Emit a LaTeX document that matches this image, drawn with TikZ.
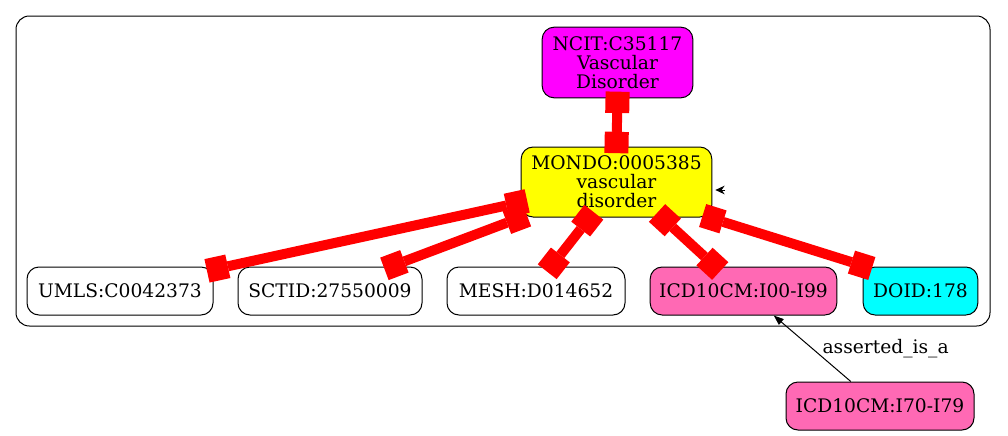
\documentclass[tikz,border=0pt]{standalone}
\usepackage{fontspec}
\setmainfont{DejaVu Serif}
\usepackage{tikz}
\usetikzlibrary{arrows.meta}
\definecolor{termpink}{RGB}{255,105,180}
\definecolor{termmagenta}{RGB}{255,0,255}
\definecolor{termyellow}{RGB}{255,255,0}
\definecolor{termcyan}{RGB}{0,255,255}

\begin{document}
\begin{tikzpicture}[
  x=0.75pt, y=-0.75pt,
  font=\fontsize{14}{14.3}\selectfont,
  term/.style={draw, line width=0.75pt, rounded corners=9pt, align=center, inner sep=2pt, minimum height=36pt, fill=white},
  mapping/.style={draw=red, line width=7.5pt, {Square[length=16pt,width=18pt,line width=0pt]}-{Square[length=16pt,width=18pt,line width=0pt]}, shorten <=-5pt, shorten >=-5pt},
  arr/.style={-{Triangle[length=7.5pt,width=5.5pt]}, line width=0.75pt}
]
\useasboundingbox (0,0) rectangle (1008,436);
\draw[line width=0.75pt, rounded corners=10pt] (16,16) rectangle (990,326);

\node[term, fill=termmagenta, minimum width=113pt, minimum height=53pt] (ncit) at (617.5,62.5) {NCIT:C35117\\Vascular\\Disorder};
\node[term, fill=termyellow, minimum width=143pt, minimum height=52.5pt] (mondo) at (616.5,182) {MONDO:0005385\\vascular\\disorder};
\node[term, minimum width=139.5pt] (umls) at (120,291) {UMLS:C0042373};
\node[term, minimum width=138pt] (sctid) at (330,291) {SCTID:27550009};
\node[term, minimum width=133.5pt] (mesh) at (536,291) {MESH:D014652};
\node[term, fill=termpink, minimum width=140pt] (icdall) at (743.5,291) {ICD10CM:I00-I99};
\node[term, fill=termcyan, minimum width=86pt] (doid) at (920.5,291) {DOID:178};
\node[term, fill=termpink, minimum width=141pt] (icdart) at (880,406) {ICD10CM:I70-I79};

\draw[mapping] (ncit.south) -- (mondo.north);
\draw[mapping] (mondo.192) -- (umls.13);
\draw[mapping] (mondo.south west) -- (sctid.22);
\draw[mapping] (mondo.233) -- (mesh.58);
\draw[mapping] (mondo.322) -- (icdall.139);
\draw[mapping] (mondo.339) -- (doid.156);

\draw[arr] (icdart.140) -- node[anchor=west, pos=0.5, xshift=4pt] {asserted\_is\_a} (icdall.321);

\coordinate (loopend) at (725,190);
\draw[line width=0.75pt, -{Stealth[length=7pt,width=6.5pt]}] (loopend) -- (mondo.east |- loopend) [shorten >=2.25pt];
\end{tikzpicture}
\end{document}
